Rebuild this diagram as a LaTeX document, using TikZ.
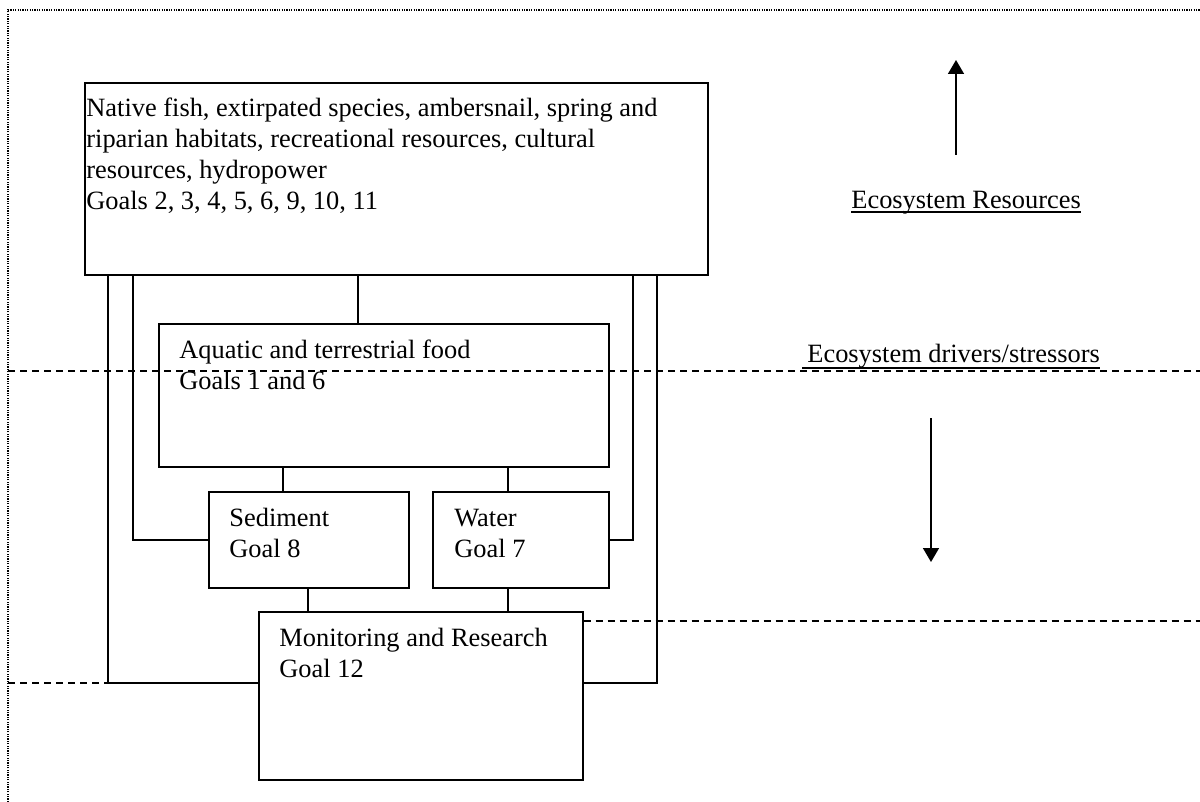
\documentclass[tikz,border=0pt]{standalone}
\usepackage{fontspec}
\setmainfont{Liberation Serif}
\usetikzlibrary{arrows.meta,calc}
\tikzset{
  box/.style={draw, line width=0.8pt, rectangle, inner sep=0pt, anchor=north west},
  txt/.style={font=\fontsize{13.2pt}{15.5pt}\selectfont, align=left, inner sep=0pt, anchor=base west},
  conn/.style={line width=0.8pt},
  dsh/.style={line width=0.8pt, dash pattern=on 3.5pt off 2.5pt},
  dotborder/.style={line width=0.6pt, dash pattern=on 0.6pt off 0.6pt},
  arr/.style={line width=0.8pt, -{Triangle[width=8pt,length=7pt]}},
  uline/.style={line width=0.7pt}
}
\begin{document}
\begin{tikzpicture}[x=0.5pt,y=-0.5pt]
\useasboundingbox (0,0) rectangle (1200,802);
% border
\coordinate (b1) at (8,802);
\coordinate (b2) at (8,10);
\coordinate (b3) at (1200,10);
\draw[dotborder] (b1) -- (b2) -- (b3);
% boxes
\node[box, minimum width=311.5pt, minimum height=96pt] (top) at (84,82) {};
\node[box, minimum width=225pt, minimum height=71.5pt] (aq) at (158,323) {};
\node[box, minimum width=100pt, minimum height=48pt] (sed) at (208,491) {};
\node[box, minimum width=88pt, minimum height=48pt] (wat) at (432,491) {};
\node[box, minimum width=162pt, minimum height=84pt] (mon) at (258,611) {};
% texts (anchor = baseline of the last line)
\node[txt] (ttop) at ($(top.north west)+(2,128)$) {Native fish, extirpated species, ambersnail, spring and\\riparian habitats, recreational resources, cultural\\resources, hydropower\\Goals 2, 3, 4, 5, 6, 9, 10, 11};
\node[txt] (taq) at ($(aq.north west)+(21,66)$) {Aquatic and terrestrial food\\Goals 1 and 6};
\node[txt] (tsed) at ($(sed.north west)+(21,66)$) {Sediment\\Goal 8};
\node[txt] (twat) at ($(wat.north west)+(22,66)$) {Water\\Goal 7};
\node[txt] (tmon) at ($(mon.north west)+(21,66)$) {Monitoring and Research\\Goal 12};
% side labels
\node[txt] (lres) at (851,209) {Ecosystem Resources};
\draw[uline] ($(lres.base west)+(0,3)$) -- ($(lres.base east)+(0,3)$);
\node[txt] (ldrv) at (807,363) {Ecosystem drivers/stressors};
\draw[uline] ($(ldrv.base west)+(-5,5)$) -- ($(ldrv.base east)+(0,5)$);
% arrows
\coordinate (upS) at (956,155);
\coordinate (upE) at (956,60);
\draw[arr] (upS) -- (upE);
\coordinate (dnS) at (931,418);
\coordinate (dnE) at (931,562);
\draw[arr] (dnS) -- (dnE);
% dashed lines
\coordinate (d1a) at (8,371);
\coordinate (d1b) at (1200,371);
\draw[dsh] (d1a) -- (d1b);
\coordinate (d2) at (1200,621);
\draw[dsh] (mon.east |- d2) -- (d2);
\coordinate (d3) at (8,683);
\draw[dsh] (d3) -- (mon.west |- d3);
% connectors
\coordinate (cA) at (108,683);
\coordinate (cB) at (133,539);
\coordinate (cC) at (633,539);
\coordinate (cD) at (657,683);
\coordinate (cE) at (358,0);
\coordinate (cF) at (283,0);
\coordinate (cG) at (508,0);
\coordinate (cH) at (308,0);
\draw[conn] (top.south -| cA) -- (cA) -- (mon.west |- cA);
\draw[conn] (top.south -| cB) |- (sed.west);
\draw[conn] (top.south -| cC) |- (wat.east);
\draw[conn] (top.south -| cD) -- (cD) -- (mon.east |- cD);
\draw[conn] (top.south -| cE) -- (aq.north -| cE);
\draw[conn] (aq.south -| cF) -- (sed.north -| cF);
\draw[conn] (aq.south -| cG) -- (wat.north -| cG);
\draw[conn] (sed.south -| cH) -- (mon.north -| cH);
\draw[conn] (wat.south -| cG) -- (mon.north -| cG);
\end{tikzpicture}
\end{document}
